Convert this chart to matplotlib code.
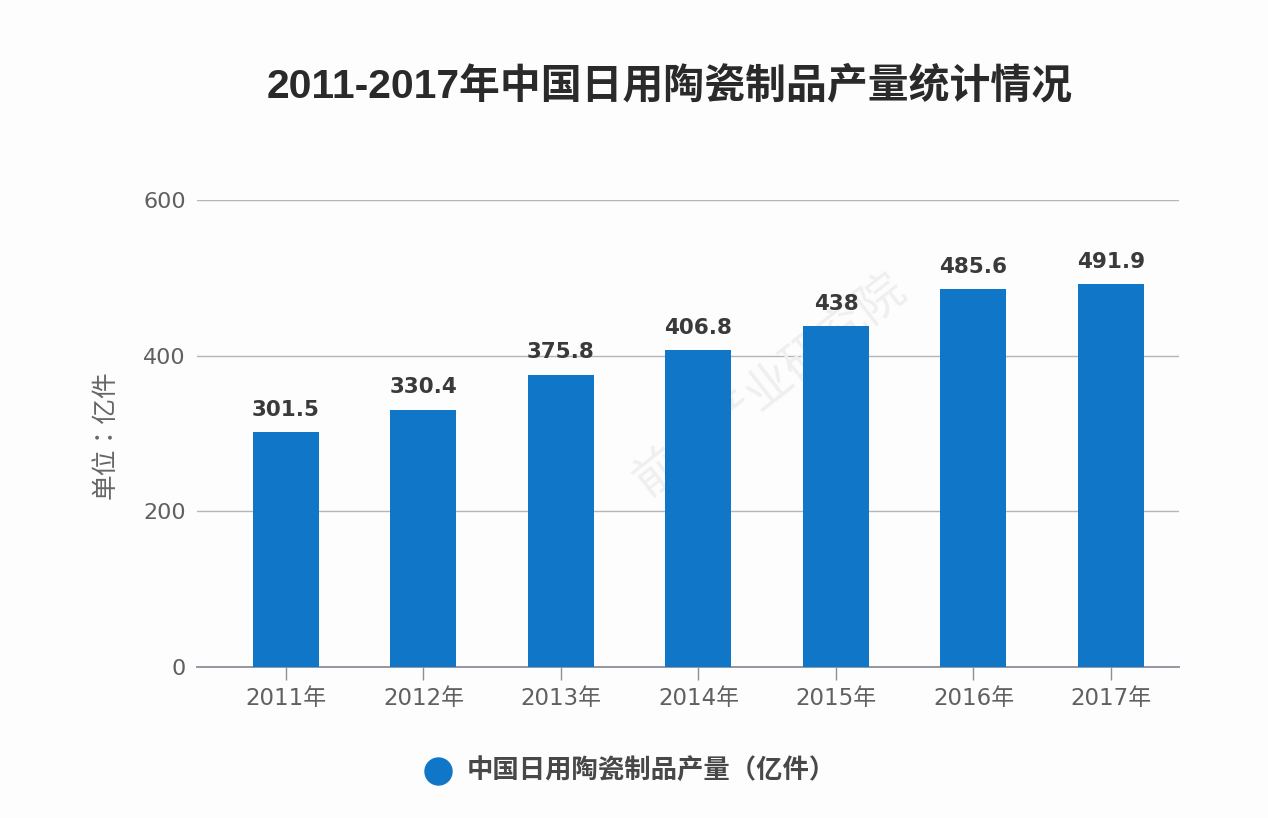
import matplotlib
matplotlib.use("Agg")
import matplotlib.pyplot as plt

plt.rcParams['font.family'] = ['DejaVu Sans', 'Noto Sans CJK SC']

years = ['2011年', '2012年', '2013年', '2014年', '2015年', '2016年', '2017年']
values = [301.5, 330.4, 375.8, 406.8, 438, 485.6, 491.9]
labels = ['301.5', '330.4', '375.8', '406.8', '438', '485.6', '491.9']
yticks = [0, 200, 400, 600]
title = '2011-2017年中国日用陶瓷制品产量统计情况'
legend_label = '中国日用陶瓷制品产量（亿件）'
ylabel = '单位：亿件'
watermark = '前瞻产业研究院'

BLUE = '#0f76c8'
W, H = 1268, 818
fig = plt.figure(figsize=(W/100, H/100), dpi=100, facecolor='#fdfdfd')
x0, x1 = 197, 1179
y0, y1 = 667, 200
ax = fig.add_axes([x0/W, 1-y0/H, (x1-x0)/W, (y0-y1)/H], facecolor='none')
ax.set_xlim(-0.647, 6.495)
ax.set_ylim(0, 600)
ax.bar(range(7), values, width=0.48, color=BLUE, zorder=3)
ax.set_axisbelow(True)
ax.yaxis.grid(True, color='#b4b5bb', lw=1)
for s in ['top', 'right', 'left']:
    ax.spines[s].set_visible(False)
ax.spines['bottom'].set_color('#8a8f9a')
ax.spines['bottom'].set_linewidth(1.3)
ax.set_xticks(range(7))
ax.set_xticklabels(years, fontsize=16.5, color='#606060')
ax.set_yticks(yticks)
ax.set_yticklabels([str(v) for v in yticks], fontsize=16, color='#606060')
ax.tick_params(axis='x', length=9.5, width=1, color='#8a8f9a', pad=5)
ax.tick_params(axis='y', length=0, pad=8)
for i, (v, l) in enumerate(zip(values, labels)):
    ax.annotate(l, (i, v), xytext=(0, 9), textcoords='offset points', ha='center',
                va='bottom', fontsize=15.5, fontweight='bold', color='#3a3a3a', zorder=4)

ax.text(770/W, 1-385/H, watermark, rotation=38, ha='center', va='center', fontsize=34,
        color='#efefef', zorder=1, family=['Noto Sans CJK SC'], transform=fig.transFigure)
fig.text(669.5/W, 1-86/H, title, ha='center', va='center', fontsize=29.4, fontweight='bold', color='#2a2a2a',
         family=['Liberation Sans', 'Noto Sans CJK SC'])
fig.text(106/W, 1-435/H, ylabel, rotation=90, ha='center', va='center', fontsize=18.5, color='#666666',
         family=['Noto Sans CJK TC'])
h = ax.scatter([], [], s=378, color=BLUE)
fig.legend([h], [legend_label], loc='center', bbox_to_anchor=(624/W, 1-770/H), frameon=False,
           prop={'size': 19, 'weight': 'bold', 'family': ['Noto Sans CJK SC']}, labelcolor='#484848',
           handletextpad=0.1)
fig.savefig('out.png', dpi=100, facecolor=fig.get_facecolor())
